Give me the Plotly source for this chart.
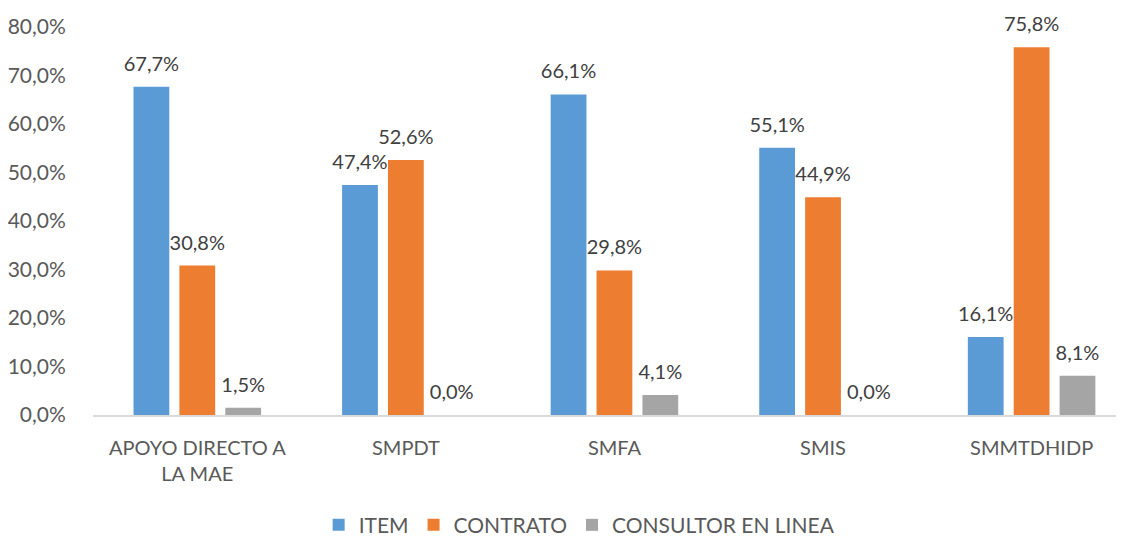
import plotly.graph_objects as go

categories = ["APOYO DIRECTO A<br>LA MAE", "SMPDT", "SMFA", "SMIS", "SMMTDHIDP"]
item = [67.7, 47.4, 66.1, 55.1, 16.1]
contrato = [30.8, 52.6, 29.8, 44.9, 75.8]
consultor = [1.5, 0.0, 4.1, 0.0, 8.1]
series_names = ["ITEM", "CONTRATO", "CONSULTOR EN LINEA"]
colors = ["#5B9BD5", "#ED7D31", "#A5A5A5"]

FONT = "Lato"
fig = go.Figure()
for i, (name, vals, col) in enumerate(zip(series_names, [item, contrato, consultor], colors)):
    fig.add_trace(go.Bar(
        x=categories, y=vals, name=name, marker_color=col,
        marker_line_width=0, offsetgroup=str(i),
    ))
for i, vals in enumerate([item, contrato, consultor]):
    fig.add_trace(go.Scatter(
        x=categories, y=vals, mode="markers+text", showlegend=False,
        offsetgroup=str(i),
        marker=dict(size=16, color="rgba(0,0,0,0)"),
        text=[f"{v:.1f}%".replace(".", ",") for v in vals],
        textposition="top center",
        textfont=dict(family=FONT, size=20, color="#404040"),
        cliponaxis=False, hoverinfo="skip",
    ))

fig.update_layout(
    width=1116, height=529,
    margin=dict(l=85, r=0, t=19, b=122, autoexpand=False),
    paper_bgcolor="white", plot_bgcolor="white",
    separators=",.",
    barmode="group", bargap=0.34, bargroupgap=0.22,
    scattermode="group", scattergap=0.34,
    font=dict(family=FONT, size=20, color="#595959"),
    showlegend=True,
    legend=dict(orientation="h", x=0.472, xanchor="center", y=-0.284, yanchor="middle",
                font=dict(family=FONT, size=21, color="#595959")),
    xaxis=dict(range=[-0.5, 4.443], showline=True, linecolor="#D9D9D9", linewidth=2,
               ticks="outside", ticklen=14, tickcolor="rgba(0,0,0,0)",
               tickfont=dict(family=FONT, size=20, color="#595959")),
    yaxis=dict(range=[0, 80], dtick=10, tickformat=".1f", ticksuffix="%",
               showgrid=False, zeroline=False, showline=False,
               ticks="outside", ticklen=22, tickcolor="rgba(0,0,0,0)",
               tickfont=dict(family=FONT, size=21, color="#595959")),
)

fig.write_html("out.html")
